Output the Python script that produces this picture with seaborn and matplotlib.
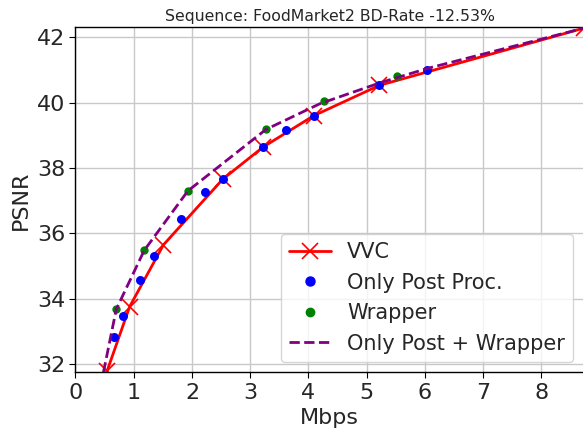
import numpy as np
import pandas as pd
import matplotlib
matplotlib.use("Agg")
import matplotlib.pyplot as plt
import seaborn as sns

# rate (Mbps) / PSNR points
vvc_rate = [0.54, 0.93, 1.51, 2.53, 3.22, 4.09, 5.22, 8.73]
vvc_psnr = [31.78, 33.76, 35.65, 37.66, 38.64, 39.60, 40.53, 42.28]

post_rate = [0.66, 0.81, 1.11, 1.35, 1.82, 2.22, 2.54, 3.22, 3.62, 4.09, 5.22, 6.04]
post_psnr = [32.83, 33.47, 34.56, 35.32, 36.43, 37.26, 37.67, 38.64, 39.17, 39.60, 40.53, 40.99]

wrap_rate = [0.70, 1.18, 1.93, 3.27, 4.27, 5.52]
wrap_psnr = [33.68, 35.48, 37.30, 39.18, 40.05, 40.83]

both_rate = [0.48, 0.70, 1.18, 1.93, 3.27, 4.20, 5.25, 6.05, 8.73]
both_psnr = [31.75, 33.68, 35.48, 37.30, 39.18, 39.97, 40.62, 41.05, 42.28]

sns.set_style("whitegrid")
plt.rcParams['font.family'] = ['DejaVu Sans']

fig = plt.figure(figsize=(5.83, 4.36), dpi=100)
ax = fig.add_axes([0.1295, 0.146, 0.872, 0.791])

sns.lineplot(x=vvc_rate, y=vvc_psnr, color='red', marker='x', markersize=12,
             markeredgewidth=1.2, markeredgecolor='red', linewidth=2,
             sort=False, ax=ax, zorder=2)
sns.scatterplot(x=post_rate, y=post_psnr, color='blue', s=42, linewidth=0,
                ax=ax, zorder=3)
sns.scatterplot(x=wrap_rate, y=wrap_psnr, color='green', s=36, linewidth=0,
                ax=ax, zorder=3)
sns.lineplot(x=both_rate, y=both_psnr, color='purple', linestyle='--',
             linewidth=2, sort=False, ax=ax, zorder=4)

ax.set_xlim(0, 8.73)
ax.set_ylim(31.75, 42.30)
ax.set_xticks(range(0, 9))
ax.set_yticks([32, 34, 36, 38, 40, 42])
ax.tick_params(axis='both', labelsize=16, length=4, color='black', left=True, bottom=True)
ax.grid(True, color='#c8c8c8', linewidth=1)
for s in ax.spines.values():
    s.set_color('black')
    s.set_linewidth(1)

ax.set_xlabel("Mbps", fontsize=16)
ax.set_ylabel("PSNR", fontsize=16)
ax.set_title("Sequence: FoodMarket2 BD-Rate -12.53%", fontsize=11.3, pad=5)

h = [
    plt.Line2D([], [], color='red', marker='x', markersize=12, markeredgewidth=1.2, linewidth=2),
    plt.Line2D([], [], color='blue', marker='o', linestyle='', markersize=6.5),
    plt.Line2D([], [], color='green', marker='o', linestyle='', markersize=6),
    plt.Line2D([], [], color='purple', linestyle='--', linewidth=2),
]
ax.legend(h, ["VVC", "Only Post Proc.", "Wrapper", "Only Post + Wrapper"],
          loc='lower right', fontsize=15, frameon=True, framealpha=0.8)

fig.savefig("out.png", dpi=100)
